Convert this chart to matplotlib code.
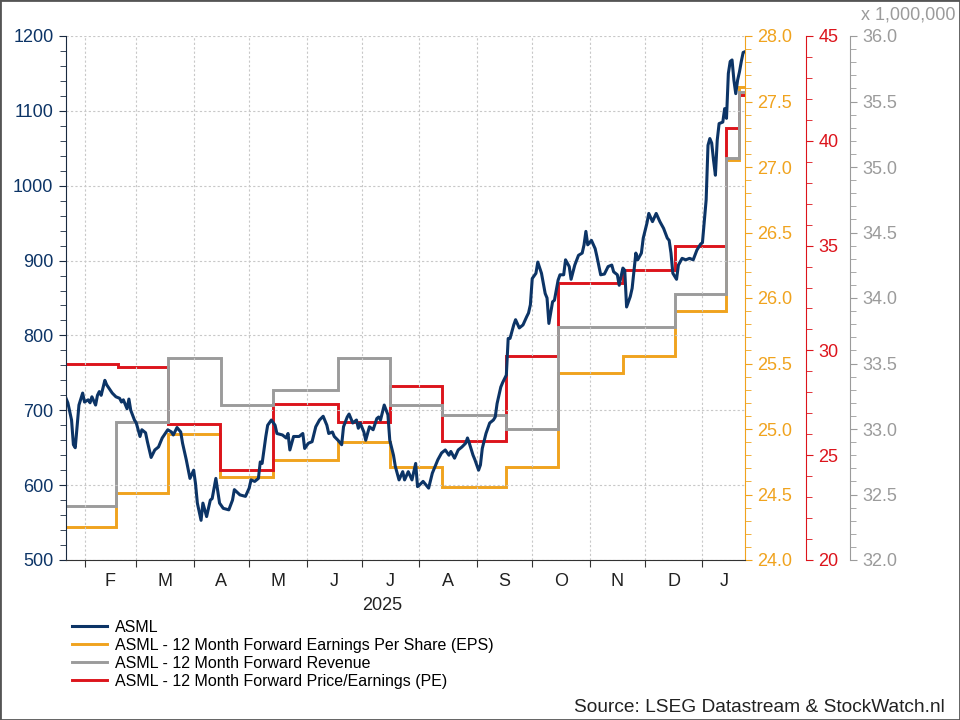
import numpy as np
import pandas as pd
import matplotlib
matplotlib.use("Agg")
import matplotlib.pyplot as plt
import matplotlib.dates as mdates
import matplotlib.transforms as mtransforms
from matplotlib.ticker import MultipleLocator, FormatStrFormatter, FixedLocator, NullFormatter
from matplotlib.patches import Rectangle

plt.rcParams['font.family'] = ['Liberation Sans', 'DejaVu Sans']

# ASML share price
price_dates = [
    '2025-01-22', '2025-01-23', '2025-01-25', '2025-01-26', '2025-01-27', '2025-01-28', '2025-01-29', '2025-01-31',
    '2025-02-01', '2025-02-03', '2025-02-04', '2025-02-05', '2025-02-07', '2025-02-08', '2025-02-09', '2025-02-10',
    '2025-02-12', '2025-02-13', '2025-02-16', '2025-02-18', '2025-02-20', '2025-02-21', '2025-02-22', '2025-02-24',
    '2025-02-25', '2025-02-26', '2025-02-28', '2025-03-01', '2025-03-03', '2025-03-04', '2025-03-06', '2025-03-07',
    '2025-03-09', '2025-03-11', '2025-03-13', '2025-03-15', '2025-03-18', '2025-03-20', '2025-03-21', '2025-03-23',
    '2025-03-25', '2025-03-26', '2025-03-28', '2025-03-30', '2025-04-01', '2025-04-02', '2025-04-03', '2025-04-05',
    '2025-04-06', '2025-04-08', '2025-04-10', '2025-04-11', '2025-04-13', '2025-04-15', '2025-04-17', '2025-04-20',
    '2025-04-22', '2025-04-23', '2025-04-26', '2025-04-29', '2025-05-01', '2025-05-02', '2025-05-04', '2025-05-06',
    '2025-05-07', '2025-05-08', '2025-05-10', '2025-05-11', '2025-05-13', '2025-05-15', '2025-05-16', '2025-05-19',
    '2025-05-21', '2025-05-22', '2025-05-23', '2025-05-25', '2025-05-28', '2025-05-30', '2025-05-31', '2025-06-02',
    '2025-06-04', '2025-06-06', '2025-06-08', '2025-06-10', '2025-06-12', '2025-06-13', '2025-06-15', '2025-06-16',
    '2025-06-18', '2025-06-20', '2025-06-21', '2025-06-23', '2025-06-24', '2025-06-26', '2025-06-28', '2025-06-29',
    '2025-06-30', '2025-07-02', '2025-07-03', '2025-07-05', '2025-07-07', '2025-07-09', '2025-07-10', '2025-07-11',
    '2025-07-13', '2025-07-15', '2025-07-16', '2025-07-18', '2025-07-19', '2025-07-21', '2025-07-23', '2025-07-24',
    '2025-07-26', '2025-07-28', '2025-07-30', '2025-07-31', '2025-08-01', '2025-08-03', '2025-08-06', '2025-08-08',
    '2025-08-09', '2025-08-11', '2025-08-13', '2025-08-15', '2025-08-17', '2025-08-18', '2025-08-20', '2025-08-22',
    '2025-08-24', '2025-08-26', '2025-08-27', '2025-08-28', '2025-08-30', '2025-08-31', '2025-09-02', '2025-09-03',
    '2025-09-04', '2025-09-06', '2025-09-08', '2025-09-10', '2025-09-11', '2025-09-12', '2025-09-14', '2025-09-15',
    '2025-09-17', '2025-09-18', '2025-09-19', '2025-09-21', '2025-09-22', '2025-09-24', '2025-09-26', '2025-09-28',
    '2025-09-29', '2025-09-30', '2025-10-01', '2025-10-03', '2025-10-04', '2025-10-06', '2025-10-08', '2025-10-09',
    '2025-10-10', '2025-10-12', '2025-10-13', '2025-10-15', '2025-10-16', '2025-10-18', '2025-10-19', '2025-10-21',
    '2025-10-22', '2025-10-24', '2025-10-26', '2025-10-28', '2025-10-29', '2025-10-30', '2025-10-31', '2025-11-02',
    '2025-11-04', '2025-11-05', '2025-11-07', '2025-11-09', '2025-11-11', '2025-11-13', '2025-11-14', '2025-11-16',
    '2025-11-17', '2025-11-19', '2025-11-20', '2025-11-21', '2025-11-23', '2025-11-24', '2025-11-26', '2025-11-27',
    '2025-11-29', '2025-11-30', '2025-12-02', '2025-12-03', '2025-12-05', '2025-12-07', '2025-12-09', '2025-12-11',
    '2025-12-13', '2025-12-14', '2025-12-15', '2025-12-16', '2025-12-18', '2025-12-19', '2025-12-21', '2025-12-23',
    '2025-12-25', '2025-12-27', '2025-12-29', '2025-12-31', '2026-01-01', '2026-01-03', '2026-01-04', '2026-01-05',
    '2026-01-06', '2026-01-07', '2026-01-08', '2026-01-09', '2026-01-10', '2026-01-12', '2026-01-13', '2026-01-14',
    '2026-01-15', '2026-01-16', '2026-01-17', '2026-01-18', '2026-01-19', '2026-01-20', '2026-01-21', '2026-01-22',
    '2026-01-23', '2026-01-24',
]
price_values = [
    716, 710, 687, 654, 650, 678, 707, 723,
    711, 714, 710, 718, 707, 720, 725, 720,
    740, 734, 723, 718, 716, 711, 714, 702,
    715, 700, 687, 683, 665, 674, 670, 658,
    637, 647, 651, 663, 674, 671, 667, 677,
    671, 656, 634, 609, 620, 602, 576, 553,
    576, 558, 580, 582, 609, 576, 569, 567,
    580, 594, 587, 585, 596, 607, 605, 609,
    631, 629, 665, 680, 687, 680, 669, 667,
    663, 669, 647, 665, 665, 669, 649, 656,
    658, 678, 687, 692, 680, 669, 671, 665,
    660, 654, 678, 691, 695, 683, 687, 676,
    683, 671, 660, 678, 674, 689, 691, 687,
    707, 694, 660, 640, 625, 607, 618, 607,
    618, 607, 629, 598, 600, 605, 596, 616,
    622, 634, 643, 647, 640, 645, 636, 647,
    651, 656, 663, 656, 640, 634, 620, 627,
    649, 669, 683, 687, 691, 709, 731, 737,
    747, 796, 796, 814, 821, 810, 814, 825,
    830, 841, 876, 883, 898, 883, 856, 850,
    816, 845, 847, 874, 881, 881, 901, 892,
    875, 894, 907, 910, 921, 939, 921, 927,
    916, 905, 881, 882, 892, 894, 885, 881,
    867, 890, 887, 838, 852, 863, 910, 901,
    910, 930, 950, 963, 952, 963, 952, 943,
    930, 927, 910, 883, 875, 894, 903, 901,
    903, 901, 914, 922, 924, 981, 1054, 1063,
    1057, 1034, 1014, 1061, 1083, 1085, 1103, 1090,
    1150, 1166, 1168, 1141, 1123, 1141, 1152, 1166,
    1178, 1179,
]

# 12 month forward EPS (steps)
eps_dates = ['2025-01-22', '2025-02-18', '2025-03-18', '2025-04-15', '2025-05-14', '2025-06-18', '2025-07-16',
             '2025-08-13', '2025-09-17', '2025-10-15', '2025-11-19', '2025-12-17', '2026-01-14', '2026-01-21']
eps_values = [24.25, 24.51, 24.96, 24.63, 24.76, 24.90, 24.71, 24.56, 24.71, 25.43, 25.56, 25.90, 27.05, 27.61]

# 12 month forward revenue, x 1,000,000 (steps)
rev_dates = ['2025-01-22', '2025-02-18', '2025-03-18', '2025-04-16', '2025-05-14', '2025-06-18', '2025-07-16',
             '2025-08-13', '2025-09-17', '2025-10-15', '2025-12-17', '2026-01-14', '2026-01-21']
rev_values = [32.41, 33.05, 33.54, 33.18, 33.30, 33.54, 33.18, 33.11, 33.00, 33.78, 34.03, 35.07, 35.57]

# 12 month forward PE (steps)
pe_dates = ['2025-01-22', '2025-02-19', '2025-03-18', '2025-04-15', '2025-05-14', '2025-06-18', '2025-07-16',
            '2025-08-13', '2025-09-17', '2025-10-15', '2025-11-19', '2025-12-17', '2026-01-14', '2026-01-21']
pe_values = [29.37, 29.21, 26.49, 24.30, 27.42, 26.59, 28.30, 25.66, 29.74, 33.21, 33.82, 34.97, 40.6, 42.2]

labels = ['ASML',
          'ASML - 12 Month Forward Earnings Per Share (EPS)',
          'ASML - 12 Month Forward Revenue',
          'ASML - 12 Month Forward Price/Earnings (PE)']

x_start = pd.Timestamp('2025-01-22')
x_end = pd.Timestamp('2026-01-24')

navy = '#0c3466'
orange = '#f0a31e'
gray = '#9b9b9b'
red = '#dc141c'
fs = 13


def steps(ax, dates, values, color):
    d = list(pd.to_datetime(dates)) + [x_end]
    v = list(values) + [values[-1]]
    line, = ax.step(d, v, where='post', color=color, lw=2.1, solid_joinstyle='miter')
    return line


def style_right(ax, color, pos, lo, hi, major, minor, fmt):
    for s in ['left', 'top', 'bottom']:
        ax.spines[s].set_visible(False)
    ax.spines['right'].set_position(('axes', pos))
    ax.spines['right'].set_color(color)
    ax.set_ylim(lo, hi)
    ax.yaxis.set_major_locator(MultipleLocator(major))
    ax.yaxis.set_minor_locator(MultipleLocator(minor))
    ax.yaxis.set_major_formatter(FormatStrFormatter(fmt))
    ax.tick_params(axis='y', which='both', colors=color, labelsize=fs, direction='out', pad=4)
    ax.tick_params(axis='y', which='major', length=5)
    ax.tick_params(axis='y', which='minor', length=4)
    ax.tick_params(axis='y', labelcolor=color)


fig = plt.figure(figsize=(9.6, 7.2), dpi=100)
fig.patch.set_facecolor('white')
ax = fig.add_axes([66/960, 1-560/720, 679/960, 524/720])

ax_eps = ax.twinx()
ax_pe = ax.twinx()
ax_rev = ax.twinx()

l_eps = steps(ax_eps, eps_dates, eps_values, orange)
l_rev = steps(ax_rev, rev_dates, rev_values, gray)
l_pe = steps(ax_pe, pe_dates, pe_values, red)

# price drawn on top of the step series
ax.set_zorder(5)
ax.patch.set_visible(False)
l_price, = ax.plot(pd.to_datetime(price_dates), price_values, color=navy, lw=2.2)

style_right(ax_eps, orange, 1.0, 24, 28, 0.5, 0.1, '%.1f')
style_right(ax_pe, red, 1 + 61/679, 20, 45, 5, 1, '%d')
style_right(ax_rev, gray, 1 + 105/679, 32, 36, 0.5, 0.1, '%.1f')

# left axis
ax.set_ylim(500, 1200)
ax.yaxis.set_major_locator(MultipleLocator(100))
ax.yaxis.set_minor_locator(MultipleLocator(20))
ax.tick_params(axis='y', which='both', colors='#1a2a40', labelcolor=navy, labelsize=fs, direction='out', pad=4)
ax.tick_params(axis='y', which='major', length=5)
ax.tick_params(axis='y', which='minor', length=4)
for s in ['top', 'right']:
    ax.spines[s].set_visible(False)
ax.spines['left'].set_color('#1a2a40')
ax.spines['bottom'].set_color('#333333')

# x axis: ticks at month starts, letters in the middle of each month
ax.set_xlim(x_start, x_end)
ax.xaxis.set_major_locator(mdates.MonthLocator())
ax.xaxis.set_major_formatter(NullFormatter())
month_starts = pd.date_range('2025-02-01', '2026-01-01', freq='MS')
mids, letters = [], []
for m in month_starts:
    b = min(m + pd.offsets.MonthBegin(1), x_end)
    mids.append(mdates.date2num(m + (b - m) / 2))
    letters.append(m.strftime('%b')[0])
ax.xaxis.set_minor_locator(FixedLocator(mids))
ax.set_xticks(mids, letters, minor=True)
ax.tick_params(axis='x', which='major', length=5, color='#333333', direction='out')
ax.tick_params(axis='x', which='minor', length=0, labelsize=fs, labelcolor='#222222', pad=9)

trans = mtransforms.blended_transform_factory(ax.transData, ax.transAxes)
ax.text(mdates.date2num(pd.Timestamp('2025-07-12')), -0.087, '2025', transform=trans,
        ha='center', va='center', fontsize=fs, color='#222222')

ax.grid(True, which='major', linestyle=(0, (2, 2)), color='#c8c8c8', lw=0.8)

fig.text(0.995, 1-15/720, 'x 1,000,000', ha='right', va='center', fontsize=13, color=gray)

fig.legend([l_price, l_eps, l_rev, l_pe], labels, loc='upper left',
           bbox_to_anchor=(72/960, 1-620/720), bbox_transform=fig.transFigure,
           frameon=False, fontsize=11.5, handlelength=2.2, handletextpad=0.5,
           labelspacing=0.18, borderpad=0, borderaxespad=0)

fig.text(945/960, 1-707/720, 'Source: LSEG Datastream & StockWatch.nl', ha='right', va='center',
         fontsize=13.8, color='#222222')

fig.patches.append(Rectangle((0, 0), 1, 1, transform=fig.transFigure, fill=False,
                             edgecolor='#555555', lw=2))

fig.savefig('out.png', dpi=100, facecolor='white')
